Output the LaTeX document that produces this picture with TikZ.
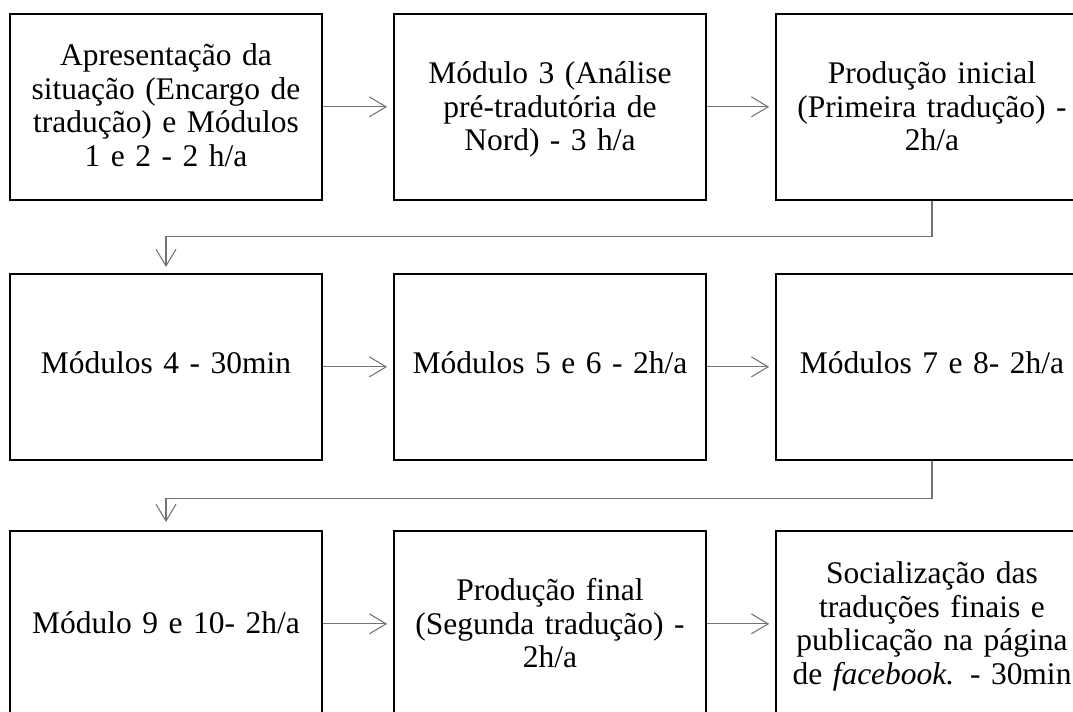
\documentclass[tikz,border=0pt]{standalone}
\usepackage{fontspec}
\setmainfont{Liberation Serif}
\usetikzlibrary{arrows.meta}
\begin{document}
\begin{tikzpicture}[
  stagebox/.style={draw, line width=1.2pt, anchor=north, minimum width=7.8cm, minimum height=4.65cm,
    text width=7.5cm, align=center, inner sep=0pt,
    font=\fontsize{22.4pt}{23.8pt}\selectfont,
    text height=#1, text depth={4.65cm-#1}},
  flow/.style={draw=black!55, line width=0.75pt, -{Straight Barb[length=0.42cm, width=0.5cm]}, shorten >=0.15cm}
]
\useasboundingbox (0,0) rectangle (26.825,-17.775);
\node[stagebox=1.3cm] (a1) at (4.15,-0.325) {Apresentação da\\situação (Encargo de\\tradução) e Módulos\\1 e 2 - 2 h/a};
\node[stagebox=1.75cm] (a2) at (13.75,-0.325) {Módulo 3 (Análise\\pré-tradutória de\\Nord) - 3 h/a};
\node[stagebox=1.75cm] (a3) at (23.3,-0.325) {Produção inicial\\(Primeira tradução) -\\2h/a};

\node[stagebox=2.5cm] (b1) at (4.15,-6.825) {Módulos 4 - 30min};
\node[stagebox=2.5cm] (b2) at (13.75,-6.825) {Módulos 5 e 6 - 2h/a};
\node[stagebox=2.5cm] (b3) at (23.3,-6.825) {Módulos 7 e 8- 2h/a};

\node[stagebox=2.575cm] (c1) at (4.15,-13.25) {Módulo 9 e 10- 2h/a};
\node[stagebox=1.75cm] (c2) at (13.75,-13.25) {Produção final\\(Segunda tradução) -\\2h/a};
\node[stagebox=1.325cm] (c3) at (23.3,-13.25) {Socialização das\\traduções finais e\\publicação na página\\de \textit{facebook.} - 30min};

\draw[flow] (a1) -- (a2);
\draw[flow] (a2) -- (a3);
\draw[flow] (a3.south) -- ++(0,-0.9) -| (b1.north);
\draw[flow] (b1) -- (b2);
\draw[flow] (b2) -- (b3);
\draw[flow, shorten >=0.2cm] (b3.south) -- ++(0,-0.95) -| (c1.north);
\draw[flow] (c1) -- (c2);
\draw[flow] (c2) -- (c3);
\end{tikzpicture}
\end{document}
